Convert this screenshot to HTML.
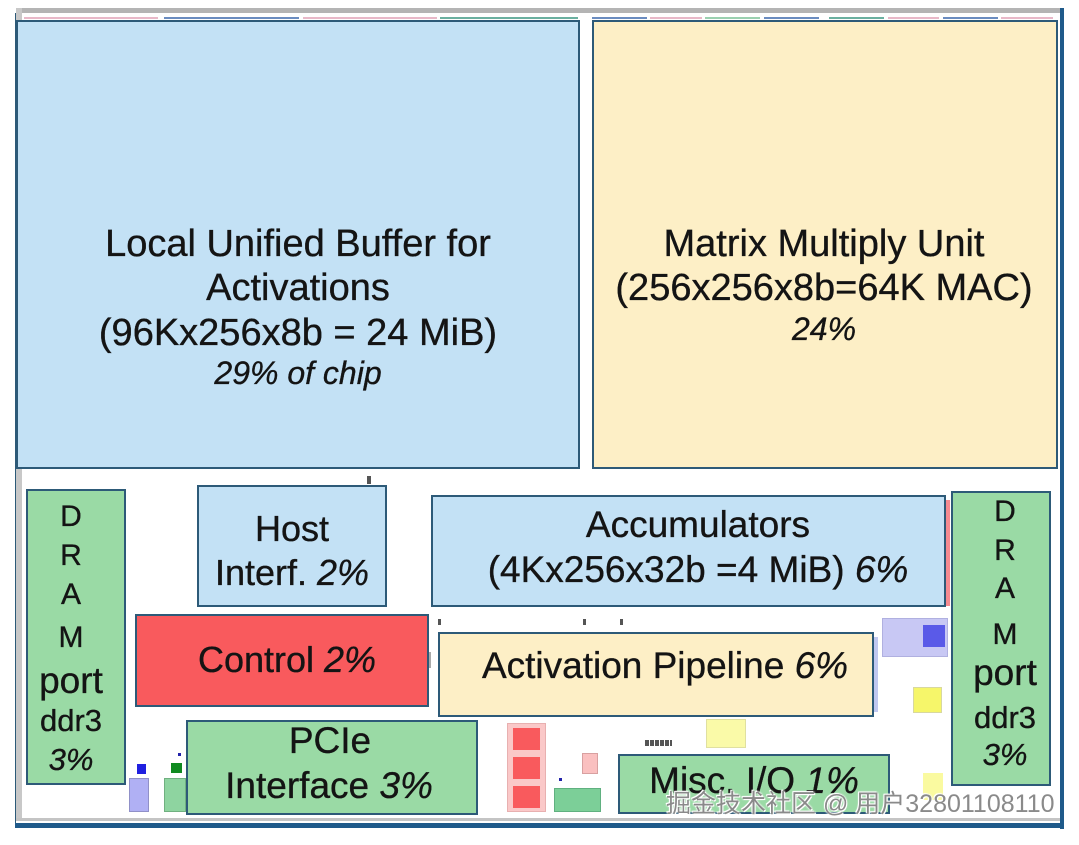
<!DOCTYPE html>
<html>
<head>
<meta charset="utf-8">
<style>
html,body{margin:0;padding:0;background:#fff;}
body{width:1079px;height:845px;position:relative;overflow:hidden;font-family:"Liberation Sans",Arial,sans-serif;color:#141414;}
.a{position:absolute;box-sizing:border-box;}
.box{position:absolute;box-sizing:border-box;border:2px solid #2d5a78;}
.blue{background:#c3e1f5;}
.yel{background:#fdefc6;}
.grn{background:#9adaa5;}
.red{background:#f95a5d;}
.t{position:absolute;white-space:nowrap;text-align:center;line-height:1;width:700px;-webkit-text-stroke:0.35px #141414;}
i{font-style:italic;}
</style>
</head>
<body>
<!-- frame -->
<div class="a" style="left:16px;top:8px;width:1044px;height:5px;background:#b4b4b4;"></div>
<div class="a" style="left:16px;top:8px;width:6px;height:812px;background:#c8c8c8;"></div>
<div class="a" style="left:15px;top:13px;width:1px;height:815px;background:#2d5a78;"></div>
<div class="a" style="left:1060px;top:8px;width:4px;height:821px;background:#1f5a8a;"></div>
<div class="a" style="left:16px;top:818px;width:1044px;height:3px;background:#c4c4c4;"></div>
<div class="a" style="left:15px;top:823px;width:1049px;height:5px;background:#1f5a8a;"></div>

<!-- top colored segments -->
<div class="a" style="left:24px;top:17px;width:134px;height:2px;background:#e8b8c8;"></div>
<div class="a" style="left:164px;top:17px;width:135px;height:2px;background:#6a8cc0;"></div>
<div class="a" style="left:303px;top:17px;width:134px;height:2px;background:#e8b8c8;"></div>
<div class="a" style="left:440px;top:17px;width:138px;height:2px;background:#6ab0a0;"></div>
<div class="a" style="left:592px;top:17px;width:55px;height:2px;background:#6a8cc0;"></div>
<div class="a" style="left:650px;top:17px;width:52px;height:2px;background:#e8b8c8;"></div>
<div class="a" style="left:705px;top:17px;width:55px;height:2px;background:#9ad0b0;"></div>
<div class="a" style="left:764px;top:17px;width:55px;height:2px;background:#6a8cc0;"></div>
<div class="a" style="left:829px;top:17px;width:55px;height:2px;background:#6ab0a0;"></div>
<div class="a" style="left:888px;top:17px;width:51px;height:2px;background:#e8b8c8;"></div>
<div class="a" style="left:943px;top:17px;width:55px;height:2px;background:#6a8cc0;"></div>
<div class="a" style="left:1001px;top:17px;width:52px;height:2px;background:#e8b8c8;"></div>

<!-- big boxes -->
<div class="box blue" style="left:16px;top:20px;width:564px;height:449px;"></div>
<div class="box yel" style="left:592px;top:20px;width:466px;height:449px;"></div>

<div class="t" style="left:-52px;top:225px;font-size:38px;">Local Unified Buffer for</div>
<div class="t" style="left:-52px;top:269px;font-size:38px;">Activations</div>
<div class="t" style="left:-52px;top:314px;font-size:38px;">(96Kx256x8b = 24 MiB)</div>
<div class="t" style="left:-52px;top:357px;font-size:32px;"><i>29% of chip</i></div>

<div class="t" style="left:474px;top:225px;font-size:38px;">Matrix Multiply Unit</div>
<div class="t" style="left:474px;top:269px;font-size:38px;">(256x256x8b=64K MAC)</div>
<div class="t" style="left:474px;top:313px;font-size:32px;"><i>24%</i></div>

<!-- DRAM left -->
<div class="box grn" style="left:26px;top:489px;width:100px;height:296px;"></div>
<div class="t" style="left:-279px;top:502px;font-size:30px;">D</div>
<div class="t" style="left:-279px;top:541px;font-size:30px;">R</div>
<div class="t" style="left:-279px;top:580px;font-size:30px;">A</div>
<div class="t" style="left:-279px;top:623px;font-size:30px;">M</div>
<div class="t" style="left:-279px;top:662px;font-size:37px;">port</div>
<div class="t" style="left:-279px;top:705px;font-size:31px;">ddr3</div>
<div class="t" style="left:-279px;top:744px;font-size:31px;"><i>3%</i></div>

<!-- DRAM right -->
<div class="box grn" style="left:951px;top:491px;width:100px;height:295px;"></div>
<div class="t" style="left:655px;top:497px;font-size:30px;">D</div>
<div class="t" style="left:655px;top:536px;font-size:30px;">R</div>
<div class="t" style="left:655px;top:574px;font-size:30px;">A</div>
<div class="t" style="left:655px;top:620px;font-size:30px;">M</div>
<div class="t" style="left:655px;top:654px;font-size:37px;">port</div>
<div class="t" style="left:655px;top:702px;font-size:31px;">ddr3</div>
<div class="t" style="left:655px;top:739px;font-size:31px;"><i>3%</i></div>

<!-- Host -->
<div class="a" style="left:367px;top:476px;width:4px;height:8px;background:#555;"></div>
<div class="box blue" style="left:197px;top:485px;width:190px;height:122px;"></div>
<div class="t" style="left:-58px;top:511px;font-size:36px;">Host</div>
<div class="t" style="left:-58px;top:555px;font-size:36px;">Interf. <i>2%</i></div>

<!-- Accumulators -->
<div class="a" style="left:945px;top:500px;width:5px;height:106px;background:#f58a90;"></div>
<div class="box blue" style="left:431px;top:495px;width:515px;height:112px;"></div>
<div class="t" style="left:348px;top:506px;font-size:37px;">Accumulators</div>
<div class="t" style="left:348px;top:551px;font-size:37px;">(4Kx256x32b =4 MiB) <i>6%</i></div>

<!-- dots -->
<div class="a" style="left:438px;top:619px;width:3px;height:6px;background:#555;"></div>
<div class="a" style="left:583px;top:619px;width:3px;height:6px;background:#555;"></div>
<div class="a" style="left:620px;top:619px;width:3px;height:6px;background:#555;"></div>

<!-- Control -->
<div class="a" style="left:427px;top:652px;width:4px;height:16px;background:#aaa;"></div>
<div class="box red" style="left:135px;top:614px;width:294px;height:93px;"></div>
<div class="t" style="left:-63px;top:642px;font-size:36px;">Control <i>2%</i></div>

<!-- Activation Pipeline -->
<div class="a" style="left:872px;top:637px;width:6px;height:75px;background:#c0c8f0;"></div>
<div class="box yel" style="left:438px;top:632px;width:436px;height:85px;"></div>
<div class="t" style="left:315px;top:647px;font-size:37px;">Activation Pipeline <i>6%</i></div>

<!-- right small items -->
<div class="a" style="left:882px;top:618px;width:66px;height:39px;background:#c8c8f4;border:1px solid #b0b0e0;"></div>
<div class="a" style="left:923px;top:625px;width:22px;height:22px;background:#5a5ae8;"></div>
<div class="a" style="left:913px;top:687px;width:29px;height:26px;background:#f6f66a;border:1px solid #d8d8a0;"></div>
<div class="a" style="left:706px;top:719px;width:40px;height:29px;background:#fafaa8;border:1px solid #e0e0a0;"></div>
<div class="a" style="left:645px;top:740px;width:27px;height:6px;background:repeating-linear-gradient(90deg,#555 0 4px,#fff 4px 5px);"></div>
<div class="a" style="left:923px;top:773px;width:20px;height:27px;background:#fafaa0;"></div>

<!-- PCIe -->
<div class="box grn" style="left:186px;top:720px;width:292px;height:95px;"></div>
<div class="t" style="left:-20px;top:722px;font-size:37px;">PCIe</div>
<div class="t" style="left:-21px;top:767px;font-size:37px;">Interface <i>3%</i></div>

<!-- left small items -->
<div class="a" style="left:137px;top:764px;width:9px;height:10px;background:#2020e0;"></div>
<div class="a" style="left:129px;top:778px;width:20px;height:34px;background:#b0b0f4;border:1px solid #9090c8;"></div>
<div class="a" style="left:171px;top:763px;width:11px;height:10px;background:#108a20;"></div>
<div class="a" style="left:164px;top:778px;width:22px;height:34px;background:#8ed4a0;border:1px solid #70b080;"></div>
<div class="a" style="left:178px;top:753px;width:3px;height:3px;background:#22a;"></div>

<!-- middle small items -->
<div class="a" style="left:507px;top:723px;width:39px;height:89px;background:#fac8c8;border:1px solid #e8b0b0;"></div>
<div class="a" style="left:513px;top:728px;width:27px;height:22px;background:#f95a5d;"></div>
<div class="a" style="left:513px;top:757px;width:27px;height:22px;background:#f95a5d;"></div>
<div class="a" style="left:513px;top:786px;width:27px;height:22px;background:#f95a5d;"></div>
<div class="a" style="left:582px;top:753px;width:16px;height:21px;background:#fac0c0;border:1px solid #d8a0a0;"></div>
<div class="a" style="left:559px;top:778px;width:3px;height:3px;background:#22a;"></div>
<div class="a" style="left:554px;top:788px;width:47px;height:24px;background:#7ccf98;border:1px solid #60b080;"></div>

<!-- Misc I/O -->
<div class="box grn" style="left:618px;top:754px;width:272px;height:60px;"></div>
<div class="t" style="left:404px;top:762px;font-size:37px;">Misc. I/O <i>1%</i></div>

<!-- watermark -->
<div class="a" style="left:666px;top:792px;font-size:25px;line-height:1;white-space:nowrap;color:#8a8a8a;font-family:'Liberation Sans','Noto Sans CJK SC',sans-serif;text-shadow:0 0 2px #fff,0 0 2px #fff,1px 1px 0 #fff,-1px -1px 0 #fff;">掘金技术社区 @ 用户32801108110</div>
</body>
</html>
